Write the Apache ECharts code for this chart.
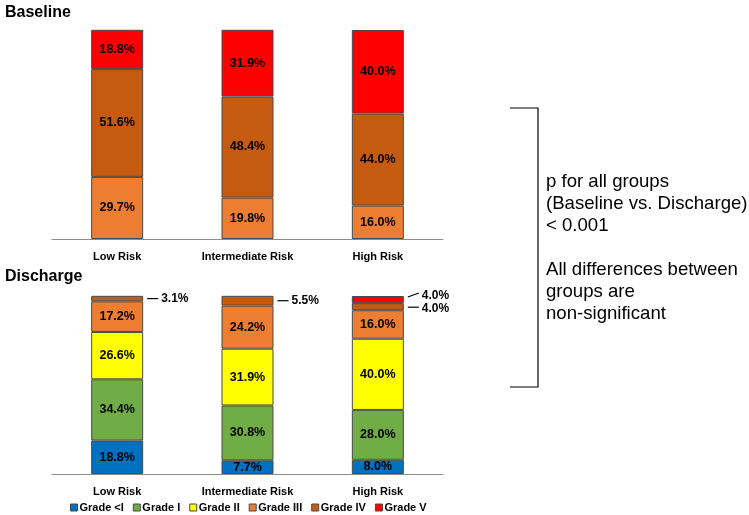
<!DOCTYPE html>
<html>
<head>
<meta charset="utf-8">
<style>html,body{margin:0;padding:0;background:#fff;}#c{width:749px;height:515px;}</style>
<script src="https://cdn.jsdelivr.net/npm/echarts@6/dist/echarts.min.js"></script>
</head>
<body>
<div id="c"></div>
<script>
const categories = ['Low Risk', 'Intermediate Risk', 'High Risk'];
const grades = ['Grade <I', 'Grade I', 'Grade II', 'Grade III', 'Grade IV', 'Grade V'];
const colors = ['#0070C0', '#70AD47', '#FFFF00', '#ED7D31', '#C55A11', '#FF0000'];

// Baseline
const baseGradeIII = [29.7, 19.8, 16.0];
const baseGradeIV = [51.6, 48.4, 44.0];
const baseGradeV = [18.8, 31.9, 40.0];

// Discharge
const disGradeLtI = [18.8, 7.7, 8.0];
const disGradeI = [34.4, 30.8, 28.0];
const disGradeII = [26.6, 31.9, 40.0];
const disGradeIII = [17.2, 24.2, 16.0];
const disGradeIV = [3.1, 5.5, 4.0];
const disGradeV = [0, 0, 4.0];

const FONT = 'Liberation Sans, Arial, sans-serif';
const chart = echarts.init(document.getElementById('c'));

const smallThreshold = 6;
// label vertical offsets for the stacked small segments in the High Risk bar
const labelOffsets = { 'Grade IV': 2, 'Grade V': -4 };
// leader line vertical shifts [start, end] relative to segment middle
const leaderShift = { 'Grade IV': [0.5, 0.5], 'Grade V': [-2.5, -6.5] };

function makeData(values, name, grid) {
  return values.map((v, i) => {
    if (v === 0) return { value: v, label: { show: false } };
    if (grid === 1 && v < smallThreshold) {
      let dy = 0;
      if (i === 2 && labelOffsets[name] !== undefined) dy = labelOffsets[name];
      return { value: v, label: { show: true, position: 'right', distance: 18, offset: [0, dy], fontSize: 12, color: '#000', fontWeight: 'bold' } };
    }
    return v;
  });
}

function makeSeries(name, values, grid, colorIdx) {
  return {
    name: name,
    type: 'bar',
    stack: grid === 0 ? 'base' : 'dis',
    xAxisIndex: grid, yAxisIndex: grid,
    barWidth: 52,
    itemStyle: { color: colors[colorIdx], borderColor: '#4a4a4a', borderWidth: 1 },
    label: {
      show: true, position: 'inside', color: '#000', fontFamily: FONT,
      fontWeight: 'bold', fontSize: 12.5,
      formatter: p => p.value.toFixed(1) + '%'
    },
    emphasis: { disabled: true },
    data: makeData(values, name, grid)
  };
}

const baseSets = [[3, baseGradeIII], [4, baseGradeIV], [5, baseGradeV]];
const disSets = [[0, disGradeLtI], [1, disGradeI], [2, disGradeII], [3, disGradeIII], [4, disGradeIV], [5, disGradeV]];

const series = [];
disSets.forEach(([ci, vals]) => series.push(makeSeries(grades[ci], vals, 1, ci)));
baseSets.forEach(([ci, vals]) => series.push(makeSeries(grades[ci], vals, 0, ci)));

function xAxis(g) {
  return {
    type: 'category', gridIndex: g, data: categories,
    axisTick: { show: false },
    axisLine: { lineStyle: { color: '#8c8c8c', width: 1 } },
    axisLabel: { color: '#000', fontFamily: FONT, fontWeight: 'bold', fontSize: 11, margin: 12 }
  };
}
function yAxis(g) {
  return { type: 'value', gridIndex: g, min: 0, max: 100, show: false, splitLine: { show: false } };
}

const statLines = ['p for all groups', '(Baseline vs. Discharge)', '< 0.001', '', 'All differences between', 'groups are', 'non-significant'];

chart.setOption({
  animation: false,
  textStyle: { fontFamily: FONT },
  grid: [
    { left: 52, width: 391, top: 30, height: 209 },
    { left: 52, width: 391, top: 296, height: 178 }
  ],
  xAxis: [xAxis(0), xAxis(1)],
  yAxis: [yAxis(0), yAxis(1)],
  legend: {
    data: grades, top: 502, left: 70, padding: 0,
    itemWidth: 7, itemHeight: 7, itemGap: 9,
    icon: 'rect',
    itemStyle: { borderColor: '#4a4a4a', borderWidth: 1 },
    textStyle: { color: '#000', fontFamily: FONT, fontWeight: 'bold', fontSize: 11, padding: [0, 0, 0, -3] },
    selectedMode: false
  },
  title: [
    { text: 'Baseline', left: 0, top: 0, textStyle: { fontFamily: FONT, fontWeight: 'bold', fontSize: 16, color: '#000' } },
    { text: 'Discharge', left: 0, top: 264, textStyle: { fontFamily: FONT, fontWeight: 'bold', fontSize: 16, color: '#000' } }
  ],
  series: series
});

// Leader lines for small discharge segments
const graphics = [];
const disStack = disSets.map(s => s[1]);
for (let i = 0; i < categories.length; i++) {
  let cum = 0;
  disStack.forEach((vals, k) => {
    const v = vals[i];
    const mid = cum + v / 2;
    cum += v;
    if (v > 0 && v < smallThreshold) {
      const c = chart.convertToPixel({ gridIndex: 1 }, [i, mid]);
      const x0 = c[0] + 26 + 4;
      const x1 = x0 + 11;
      const name = grades[disSets[k][0]];
      let sh = [0, 0];
      if (i === 2 && leaderShift[name]) sh = leaderShift[name];
      graphics.push({
        type: 'line', silent: true,
        shape: { x1: x0, y1: c[1] + sh[0], x2: x1, y2: c[1] + sh[1] },
        style: { stroke: '#000', lineWidth: 1.2 }
      });
    }
  });
}

// Bracket and statistics text
graphics.push({ type: 'polyline', silent: true, shape: { points: [[510, 108], [538, 108], [538, 387], [510, 387]] }, style: { stroke: '#000', fill: null, lineWidth: 1.2 } });
graphics.push({
  type: 'text', silent: true, left: 546, top: 171,
  style: { text: statLines.join('\n'), font: '18.6px ' + FONT, fill: '#000', lineHeight: 22 }
});

chart.setOption({ graphic: graphics });
</script>
</body>
</html>
